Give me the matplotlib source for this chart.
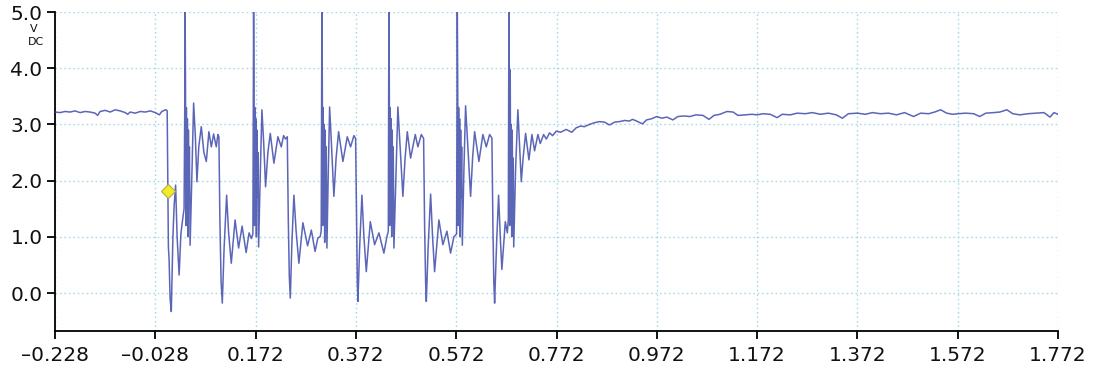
import matplotlib
matplotlib.use("Agg")
import matplotlib.pyplot as plt
import numpy as np

# ---------------- data (time in s, voltage in V DC) ----------------
pre_t = [-0.228, -0.218, -0.208, -0.198, -0.188, -0.178, -0.168, -0.158, -0.148, -0.143,
         -0.138, -0.128, -0.118, -0.108, -0.098, -0.088, -0.083, -0.078, -0.068, -0.058,
         -0.048, -0.038, -0.028, -0.020, -0.015, -0.010, -0.0065, -0.0043]
pre_v = [3.22, 3.21, 3.23, 3.22, 3.24, 3.21, 3.23, 3.22, 3.20, 3.16,
         3.23, 3.25, 3.22, 3.26, 3.24, 3.21, 3.18, 3.22, 3.20, 3.23,
         3.22, 3.24, 3.21, 3.17, 3.23, 3.25, 3.26, 3.24]

burst_t = [
    -0.0029, -0.0019, -0.0005, 0.0015, 0.0039, 0.0071, 0.0095, 0.0125, 0.0155, 0.0195, 0.0230, 0.0264, 0.0294,
    0.0308, 0.0314, 0.0322, 0.0330, 0.0340, 0.0350, 0.0360, 0.0370, 0.0380, 0.0390, 0.0400, 0.0414,
    0.0444, 0.0484, 0.0518, 0.0550, 0.0587, 0.0637, 0.0689, 0.0737, 0.0789, 0.0837, 0.0883, 0.0936, 0.0968, 0.0988,
    0.1008, 0.1032, 0.1056, 0.1092, 0.1142, 0.1182, 0.1235, 0.1311, 0.1381, 0.1451, 0.1531, 0.1590, 0.1634, 0.1666,
    0.1674, 0.1680, 0.1688, 0.1696, 0.1706, 0.1716, 0.1726, 0.1736, 0.1746, 0.1756, 0.1766, 0.1780,
    0.1810, 0.1846, 0.1880, 0.1919, 0.1965, 0.2013, 0.2085, 0.2165, 0.2232, 0.2278, 0.2318, 0.2352,
    0.2372, 0.2392, 0.2412, 0.2444, 0.2484, 0.2528, 0.2583, 0.2663, 0.2757, 0.2831, 0.2906, 0.2962, 0.3006, 0.3028,
    0.3036, 0.3042, 0.3050, 0.3058, 0.3068, 0.3078, 0.3088, 0.3098, 0.3108, 0.3118, 0.3128, 0.3142,
    0.3166, 0.3196, 0.3235, 0.3281, 0.3325, 0.3375, 0.3461, 0.3548, 0.3614, 0.3680, 0.3714,
    0.3734, 0.3748, 0.3760, 0.3794, 0.3840, 0.3880, 0.3927, 0.4007, 0.4093, 0.4179, 0.4278, 0.4338, 0.4366,
    0.4372, 0.4378, 0.4386, 0.4394, 0.4404, 0.4414, 0.4424, 0.4434, 0.4444, 0.4454, 0.4464, 0.4478,
    0.4522, 0.4557, 0.4601, 0.4657, 0.4701, 0.4745, 0.4811, 0.4904, 0.4956, 0.5024, 0.5070,
    0.5090, 0.5110, 0.5124, 0.5160, 0.5210, 0.5249, 0.5289, 0.5375, 0.5455, 0.5535, 0.5608, 0.5674, 0.5728,
    0.5736, 0.5742, 0.5750, 0.5758, 0.5768, 0.5778, 0.5788, 0.5798, 0.5808, 0.5818, 0.5828, 0.5842,
    0.5874, 0.5907, 0.5953, 0.6007, 0.6047, 0.6087, 0.6173, 0.6252, 0.6320, 0.6386, 0.6432,
    0.6452, 0.6470, 0.6486, 0.6526, 0.6565, 0.6599, 0.6631, 0.6699, 0.6739, 0.6759,
    0.6765, 0.6771, 0.6779, 0.6787, 0.6797, 0.6807, 0.6817, 0.6827, 0.6837, 0.6847, 0.6857, 0.6867,
]
burst_v = [
    1.82, 0.82, 0.60, -0.10, -0.33, 1.00, 1.55, 1.92, 1.00, 0.32, 1.05, 1.30, 1.50,
    3.40, 5.00, 3.80, 1.20, 3.30, 1.40, 3.10, 1.00, 2.90, 1.70, 2.60, 0.85,
    1.90, 3.38, 2.80, 1.98, 2.60, 2.96, 2.50, 2.34, 2.87, 2.60, 2.83, 2.60, 2.82, 2.78,
    1.30, 0.20, -0.18, 0.80, 1.74, 1.07, 0.53, 1.30, 0.80, 1.19, 0.72, 1.07, 0.97, 1.05,
    3.40, 5.00, 3.80, 1.20, 3.30, 1.50, 3.10, 1.00, 2.90, 1.70, 2.50, 0.82,
    2.00, 3.26, 2.70, 1.89, 2.50, 2.84, 2.31, 2.78, 2.60, 2.80, 2.74, 2.78,
    1.30, 0.30, -0.09, 0.90, 1.74, 1.10, 0.53, 1.25, 0.84, 1.12, 0.74, 0.98, 1.00, 1.10,
    3.40, 5.00, 3.80, 1.20, 3.30, 1.40, 3.00, 0.90, 2.90, 1.60, 2.60, 0.80,
    2.00, 3.31, 2.60, 1.72, 2.40, 2.87, 2.34, 2.78, 2.60, 2.80, 2.75,
    1.20, 0.20, -0.15, 0.80, 1.74, 1.00, 0.38, 1.27, 0.86, 1.07, 0.71, 1.00, 1.10,
    3.40, 5.00, 3.80, 1.20, 3.30, 1.40, 3.10, 1.00, 2.90, 1.70, 2.60, 0.80,
    2.20, 3.31, 2.60, 1.72, 2.40, 2.87, 2.40, 2.82, 2.60, 2.82, 2.75,
    1.20, 0.20, -0.15, 0.80, 1.76, 1.00, 0.38, 1.30, 0.86, 1.10, 0.71, 1.00, 1.05,
    3.40, 5.00, 3.80, 1.20, 3.30, 1.40, 3.10, 1.00, 2.90, 1.70, 2.60, 0.85,
    2.20, 3.33, 2.60, 1.72, 2.40, 2.87, 2.34, 2.82, 2.60, 2.82, 2.76,
    1.20, 0.20, -0.18, 0.90, 1.74, 1.00, 0.42, 1.27, 1.07, 1.30,
    3.40, 5.00, 4.00, 1.20, 3.97, 1.40, 3.00, 1.00, 2.90, 1.60, 2.40, 0.82,
]

recovery_t = [0.6904, 0.6950, 0.6984, 0.7018, 0.7054, 0.7104, 0.7170, 0.7230, 0.7283, 0.7349,
              0.7397, 0.7463, 0.7517, 0.7582, 0.7642, 0.7716, 0.780, 0.7913, 0.8025, 0.8113,
              0.8199, 0.8278, 0.8378, 0.8478, 0.8577, 0.8677, 0.8777, 0.8877, 0.8976, 0.9076,
              0.9176, 0.9236, 0.9315, 0.9435, 0.9515, 0.9615, 0.972, 0.982, 0.992, 1.004,
              1.014, 1.026, 1.038, 1.050, 1.064, 1.076, 1.086, 1.098, 1.112, 1.124,
              1.134, 1.148, 1.162, 1.172, 1.184, 1.198, 1.212, 1.222, 1.238, 1.252,
              1.268, 1.282, 1.298, 1.314, 1.330, 1.342, 1.354, 1.372, 1.388, 1.402,
              1.418, 1.434, 1.450, 1.466, 1.484, 1.498, 1.514, 1.526, 1.538, 1.550,
              1.562, 1.572, 1.588, 1.604, 1.616, 1.628, 1.644, 1.656, 1.670, 1.682,
              1.696, 1.712, 1.728, 1.744, 1.756, 1.764, 1.772]
recovery_v = [2.20, 3.26, 2.60, 1.98, 2.40, 2.84, 2.37, 2.82, 2.53, 2.82,
              2.66, 2.82, 2.74, 2.85, 2.80, 2.88, 2.86, 2.91, 2.86, 2.94,
              2.97, 2.96, 3.00, 3.03, 3.05, 3.04, 2.99, 3.04, 3.05, 3.07,
              3.06, 3.09, 3.06, 3.01, 3.08, 3.10, 3.14, 3.11, 3.13, 3.08,
              3.14, 3.15, 3.14, 3.17, 3.16, 3.09, 3.16, 3.18, 3.23, 3.22,
              3.16, 3.17, 3.18, 3.17, 3.19, 3.18, 3.12, 3.18, 3.17, 3.20,
              3.19, 3.21, 3.18, 3.20, 3.17, 3.11, 3.19, 3.20, 3.18, 3.21,
              3.19, 3.20, 3.17, 3.21, 3.14, 3.20, 3.19, 3.22, 3.26, 3.20,
              3.18, 3.19, 3.20, 3.19, 3.14, 3.20, 3.21, 3.22, 3.26, 3.19,
              3.17, 3.19, 3.20, 3.21, 3.13, 3.21, 3.18]

marker_t = [-0.0029]
marker_v = [1.82]

x_ticks = [-0.228, -0.028, 0.172, 0.372, 0.572, 0.772, 0.972, 1.172, 1.372, 1.572, 1.772]
x_labels = ["\u20130.228", "\u20130.028", "0.172", "0.372", "0.572", "0.772",
            "0.972", "1.172", "1.372", "1.572", "1.772"]
y_ticks = [0.0, 1.0, 2.0, 3.0, 4.0, 5.0]
y_labels = ["0.0", "1.0", "2.0", "3.0", "4.0", "5.0"]

# ---------------- figure ----------------
W, H = 1095, 368
fig = plt.figure(figsize=(W / 100, H / 100), dpi=100)
ax = fig.add_axes([55 / W, 1 - 331 / H, (1058 - 55) / W, (331 - 12) / H])

t = np.concatenate([pre_t, burst_t, recovery_t])
v = np.concatenate([pre_v, burst_v, recovery_v])
ax.plot(t, v, color="#3f4bab", lw=1.1, alpha=0.85, zorder=3)
ax.plot(marker_t, marker_v, linestyle="none", marker="D", markersize=7,
        markerfacecolor="#f3ea2c", markeredgecolor="#b5ae3c", markeredgewidth=0.8, zorder=5)

ax.set_xlim(-0.228, 1.772)
ax.set_ylim(-0.676, 5.0)
ax.set_xticks(x_ticks)
ax.set_xticklabels(x_labels)
ax.set_yticks(y_ticks)
ax.set_yticklabels(y_labels)

ax.grid(True, color="#a9d9e8", linestyle=(0, (1.2, 2.0)), linewidth=1.0, zorder=0)
for s in ("top", "right"):
    ax.spines[s].set_visible(False)
for s in ("left", "bottom"):
    ax.spines[s].set_linewidth(1.3)
    ax.spines[s].set_color("black")

ax.tick_params(axis="both", direction="out", length=6, width=1.3, color="black",
               labelsize=14.5, labelcolor="#111111")
ax.tick_params(axis="x", pad=5)
ax.tick_params(axis="y", pad=3)

fig.text(34 / W, 1 - 29 / H, "V", ha="center", va="center", fontsize=8, color="#111111")
fig.text(36 / W, 1 - 42 / H, "DC", ha="center", va="center", fontsize=8, color="#111111")

fig.savefig("out.png", dpi=100)
